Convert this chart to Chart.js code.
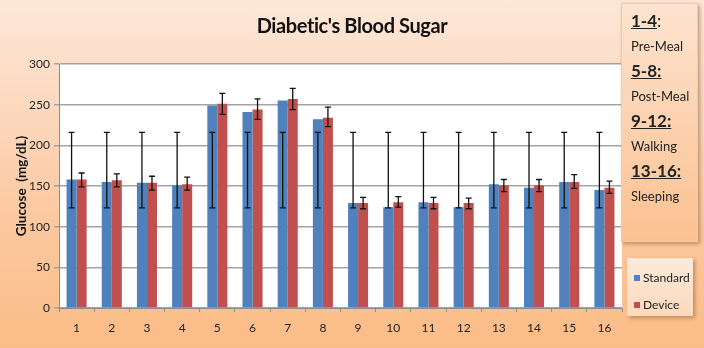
<!DOCTYPE html>
<html>
<head>
<meta charset="utf-8">
<script src="https://cdn.jsdelivr.net/npm/chart.js@4.4.1/dist/chart.umd.min.js"></script>
<style>
  html, body { margin:0; padding:0; }
  body { width:704px; height:348px; overflow:hidden; position:relative;
    background: linear-gradient(to bottom, #fde7d8 0%, #fcd9bf 30%, #fcc9a1 62%, #fbbc86 100%);
    font-family: Lato, "Open Sans", sans-serif; }
  #wrap { position:absolute; left:0; top:0; width:704px; height:348px; }
  #title { position:absolute; left:0; top:13px; width:704px; text-align:center;
    font-family: Lato, sans-serif; font-weight:bold; font-size:20px; letter-spacing:-0.4px; color:#111; }
  #note { position:absolute; left:621px; top:3px; width:77px; height:239px; box-sizing:border-box;
    background: linear-gradient(to bottom, #fde4cf 0%, #fcd2b0 50%, #fbc191 100%);
    border:1px solid #f6c9a3; box-shadow: 2px 2px 4px rgba(120,70,30,0.45);
    padding:4px 0 0 9px; color:#222; }
  #note .h { font-weight:bold; font-size:17px; line-height:26px; }
  #note .h u { text-decoration: underline; }
  #note .s { font-size:13px; line-height:24px; }
  #legend { position:absolute; left:627px; top:258px; width:66px; height:58px; box-sizing:border-box;
    background: linear-gradient(to bottom, #fdeadb 0%, #fcd9bd 100%);
    box-shadow: 2px 2px 4px rgba(120,70,30,0.45); padding:6px 0 0 7px; font-size:12px; color:#222; }
  #legend div { line-height:27px; height:27px; }
  #legend span { display:inline-block; width:6px; height:6px; margin-right:3px; vertical-align:1px; }
</style>
</head>
<body>
<div id="wrap"><canvas id="c" width="704" height="348"></canvas></div>
<div id="title">Diabetic's Blood Sugar</div>
<div id="note">
  <div class="h"><u>1-4</u><span style="font-weight:normal">:</span></div>
  <div class="s">Pre-Meal</div>
  <div class="h"><u>5-8:</u></div>
  <div class="s">Post-Meal</div>
  <div class="h"><u>9-12:</u></div>
  <div class="s">Walking</div>
  <div class="h"><u>13-16:</u></div>
  <div class="s">Sleeping</div>
</div>
<div id="legend">
  <div><span style="background:#4f81bd"></span>Standard</div>
  <div><span style="background:#c0504d"></span>Device</div>
</div>
<script>
const categories = ["1","2","3","4","5","6","7","8","9","10","11","12","13","14","15","16"];
const standardValues = [158, 155, 154, 151, 249, 241, 255, 232, 129, 124, 130, 124, 152, 148, 155, 145];
const deviceValues   = [158, 157, 154, 152, 251, 244, 257, 234, 129, 130, 129, 129, 151, 151, 155, 148];
const standardLow  = [123, 123, 123, 123, 123, 123, 123, 123, 123, 123, 123, 123, 123, 123, 123, 123];
const standardHigh = [216, 216, 216, 216, 216, 216, 216, 216, 216, 216, 216, 216, 216, 216, 216, 216];
const deviceLow  = [149, 149, 145, 145, 238, 232, 244, 223, 122, 124, 122, 122, 143, 143, 147, 141];
const deviceHigh = [166, 165, 162, 161, 264, 257, 270, 247, 136, 137, 136, 135, 158, 158, 164, 156];
const yTicks = [0, 50, 100, 150, 200, 250, 300];

const errorLows = [standardLow, deviceLow];
const errorHighs = [standardHigh, deviceHigh];

const plotBg = {
  id: 'plotBg',
  beforeDraw(chart) {
    const {ctx, chartArea: a} = chart;
    ctx.save();
    ctx.fillStyle = '#ffffff';
    ctx.fillRect(a.left, a.top, a.right - a.left, a.bottom - a.top);
    ctx.restore();
  }
};

const errorBars = {
  id: 'errorBars',
  afterDatasetsDraw(chart) {
    const ctx = chart.ctx;
    const y = chart.scales.y;
    ctx.save();
    ctx.strokeStyle = '#111';
    ctx.lineWidth = 1.3;
    chart.data.datasets.forEach((ds, di) => {
      const meta = chart.getDatasetMeta(di);
      meta.data.forEach((bar, i) => {
        const x = bar.x;
        const yl = y.getPixelForValue(errorLows[di][i]);
        const yh = y.getPixelForValue(errorHighs[di][i]);
        ctx.beginPath();
        ctx.moveTo(x, yl); ctx.lineTo(x, yh);
        ctx.moveTo(x - 3, yl); ctx.lineTo(x + 3, yl);
        ctx.moveTo(x - 3, yh); ctx.lineTo(x + 3, yh);
        ctx.stroke();
      });
    });
    ctx.restore();
  }
};

new Chart(document.getElementById('c'), {
  type: 'bar',
  data: {
    labels: categories,
    datasets: [
      { label: 'Standard', data: standardValues, backgroundColor: '#4f81bd', borderWidth: 0,
        categoryPercentage: 0.57, barPercentage: 1.0 },
      { label: 'Device', data: deviceValues, backgroundColor: '#c0504d', borderWidth: 0,
        categoryPercentage: 0.57, barPercentage: 1.0 }
    ]
  },
  options: {
    responsive: false,
    animation: false,
    devicePixelRatio: 1,
    layout: { padding: { left: 0, right: 82, top: 64, bottom: 10 } },
    plugins: { legend: { display: false }, title: { display: false }, tooltip: { enabled: false } },
    scales: {
      x: {
        offset: true,
        grid: { display: true, drawOnChartArea: false, drawTicks: true, tickLength: 4, color: '#8c8c8c', offset: true },
        border: { display: true, color: '#8c8c8c', width: 1 },
        ticks: { font: { family: 'Lato', size: 12 }, color: '#222', padding: 9 },
        afterFit(s) { s.height = 30; }
      },
      y: {
        min: 0, max: 300,
        afterBuildTicks(s) { s.ticks = yTicks.map(v => ({ value: v })); },
        grid: { color: '#a3a3a3', lineWidth: 1.5, tickLength: 5, drawTicks: true },
        border: { display: true, color: '#8c8c8c', width: 1 },
        ticks: { font: { family: 'Lato', size: 12 }, color: '#222', padding: 4 },
        title: { display: true, text: 'Glucose  (mg/dL)', font: { family: 'Lato', size: 13.5, weight: 'bold' }, color: '#111', padding: { top: 14, bottom: 0 } },
        afterFit(s) { s.width = 59; }
      }
    }
  },
  plugins: [plotBg, errorBars]
});
</script>
</body>
</html>
